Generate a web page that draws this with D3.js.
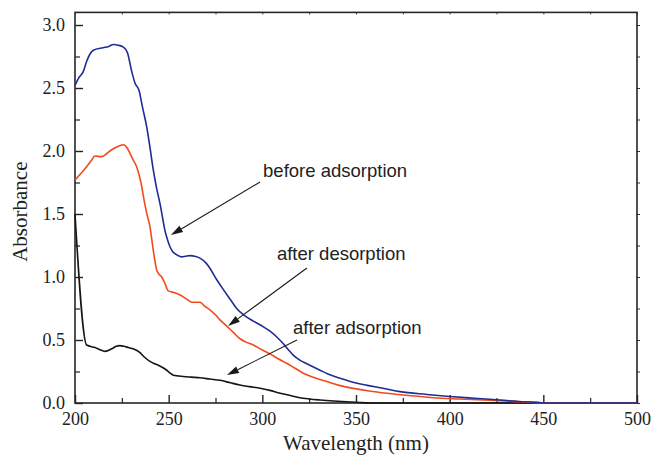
<!DOCTYPE html>
<html>
<head>
<meta charset="utf-8">
<script src="https://cdn.jsdelivr.net/npm/d3@7"></script>
<style>
  html, body { margin: 0; padding: 0; background: #fff; }
  svg { display: block; }
  .tick text { font-family: "Liberation Serif", "Times New Roman", serif; font-size: 18px; fill: #222; }
  .axis-title { font-family: "Liberation Serif", "Times New Roman", serif; font-size: 21px; fill: #222; }
  .note { font-family: "Liberation Sans", Arial, sans-serif; font-size: 18.5px; fill: #222; }
</style>
</head>
<body>
<svg id="chart" width="651" height="455"></svg>
<script>
// UV-Vis absorption spectra: wavelength (nm) vs absorbance
const beforeAdsorption = [
  [200, 2.52], [202, 2.58], [204.4, 2.63], [206.2, 2.71], [208, 2.77], [209.8, 2.80],
  [215, 2.82], [218, 2.83], [220.5, 2.845], [223, 2.84], [225.8, 2.825], [228, 2.78],
  [230.3, 2.63], [232, 2.54], [234.2, 2.48], [236, 2.35], [238.3, 2.19], [240, 2.03],
  [241.8, 1.85], [243.5, 1.71], [245.4, 1.58], [247, 1.45], [248, 1.37], [249.5, 1.29],
  [250.7, 1.24], [252, 1.205], [253.4, 1.185], [255, 1.17], [257, 1.16], [259, 1.165],
  [261.4, 1.17], [264, 1.165], [266.7, 1.15], [270, 1.11], [272, 1.07], [275.6, 0.98],
  [279.2, 0.90], [283, 0.82], [286.3, 0.75], [290, 0.70], [295.2, 0.65], [300, 0.61],
  [304.1, 0.57], [308, 0.52], [311.2, 0.47], [314, 0.42], [316.5, 0.38], [320, 0.34],
  [324, 0.31], [330.8, 0.26], [335, 0.23], [341.5, 0.196], [350, 0.158], [356, 0.14],
  [365, 0.115], [373.5, 0.09], [387.8, 0.068], [400, 0.052], [413, 0.038], [427, 0.024],
  [440, 0.01], [448, 0.004], [450, 0], [500, 0]
];

const afterDesorption = [
  [200, 1.77], [203, 1.82], [206.2, 1.875], [208.5, 1.92], [210.7, 1.96], [214.2, 1.955],
  [217, 1.98], [219.6, 2.01], [222, 2.03], [225.8, 2.05], [228, 2.02], [229.4, 1.98],
  [231, 1.93], [232.9, 1.875], [235.6, 1.72], [237, 1.60], [238.3, 1.505], [240, 1.40],
  [241.8, 1.21], [243.6, 1.055], [245, 1.02], [246.3, 1.00], [248, 0.95], [249.8, 0.89],
  [252, 0.88], [256.1, 0.857], [259, 0.83], [262.3, 0.80], [266.7, 0.80], [269, 0.77],
  [272, 0.74], [275, 0.70], [277.4, 0.66], [281, 0.61], [284.5, 0.56], [288.1, 0.51],
  [291, 0.485], [295.2, 0.46], [300, 0.42], [304.1, 0.39], [308, 0.355], [313, 0.315],
  [317, 0.28], [321.9, 0.236], [328, 0.20], [334.4, 0.17], [341, 0.14], [348.6, 0.116],
  [357, 0.095], [366.4, 0.077], [378, 0.06], [391.3, 0.042], [405, 0.032], [418, 0.024],
  [432, 0.014], [444.7, 0.005], [450, 0], [500, 0]
];

const afterAdsorption = [
  [200, 1.50], [206.2, 0.46], [210.7, 0.44], [213, 0.425], [216, 0.41], [219.6, 0.43],
  [222, 0.45], [224, 0.455], [226, 0.45], [228.5, 0.44], [231, 0.43], [234.7, 0.40],
  [237, 0.365], [240, 0.33], [242, 0.315], [244.5, 0.30], [247, 0.28], [249, 0.26],
  [251, 0.235], [252.5, 0.22], [255, 0.215], [257.8, 0.21], [262, 0.205], [266.7, 0.20],
  [272, 0.19], [277.4, 0.18], [283, 0.16], [288, 0.143], [293, 0.13], [298.8, 0.117],
  [304, 0.10], [309.5, 0.077], [315, 0.06], [320, 0.042], [325, 0.032], [330.8, 0.024],
  [338, 0.016], [345, 0.01], [352, 0.004], [360, 0], [500, 0]
];

const xTicks = [200, 250, 300, 350, 400, 450, 500];
const xMinorTicks = [225, 275, 325, 375, 425, 475];
const yTicks = [0, 0.5, 1.0, 1.5, 2.0, 2.5, 3.0];
const yMinorTicks = [0.25, 0.75, 1.25, 1.75, 2.25, 2.75];

// drawn in this order, so the blue spectrum ends up on top
const seriesList = [
  { name: "after adsorption", values: afterAdsorption, color: "#161616" },
  { name: "after desorption", values: afterDesorption, color: "#f24a1d" },
  { name: "before adsorption", values: beforeAdsorption, color: "#1f2c94" }
];

// label text position, arrow tail and arrow tip, in data units
const notes = [
  { text: "before adsorption", at: [300.4, 1.794], from: [298.8, 1.754], to: [251.2, 1.333] },
  { text: "after desorption", at: [307.8, 1.135], from: [323.8, 1.071], to: [281.7, 0.611] },
  { text: "after adsorption", at: [316.4, 0.548], from: [318.5, 0.50], to: [281.1, 0.222] }
];

const svg = d3.select("#chart");
const margin = { left: 75, right: 14, top: 12.4, bottom: 52 };
const W = 651, H = 455;

const x = d3.scaleLinear().domain([200, 500]).range([margin.left, W - margin.right]);
const y = d3.scaleLinear().domain([0, 3.1]).range([H - margin.bottom, margin.top]);

const x0 = x.range()[0], x1 = x.range()[1];
const y0 = y.range()[0], y1 = y.range()[1];

svg.append("rect").attr("width", W).attr("height", H).attr("fill", "#fff");

// bottom axis: major ticks with labels, inward
const gx = svg.append("g").attr("transform", `translate(0,${y0})`)
  .call(d3.axisBottom(x).tickValues(xTicks).tickSizeInner(-8).tickSizeOuter(0).tickPadding(9).tickFormat(d3.format("d")));
gx.select(".domain").remove();
gx.selectAll(".tick line").attr("stroke", "#222").attr("stroke-width", 1.4);

svg.append("g").attr("transform", `translate(0,${y0})`)
  .call(d3.axisBottom(x).tickValues(xMinorTicks).tickSizeInner(-5).tickSizeOuter(0).tickFormat(""))
  .call(g => g.select(".domain").remove())
  .selectAll(".tick line").attr("stroke", "#222").attr("stroke-width", 1.2);

// left axis
const gy = svg.append("g").attr("transform", `translate(${x0},0)`)
  .call(d3.axisLeft(y).tickValues(yTicks).tickSizeInner(-8).tickSizeOuter(0).tickPadding(10).tickFormat(d3.format(".1f")));
gy.select(".domain").remove();
gy.selectAll(".tick line").attr("stroke", "#222").attr("stroke-width", 1.4);

svg.append("g").attr("transform", `translate(${x0},0)`)
  .call(d3.axisLeft(y).tickValues(yMinorTicks).tickSizeInner(-5).tickSizeOuter(0).tickFormat(""))
  .call(g => g.select(".domain").remove())
  .selectAll(".tick line").attr("stroke", "#222").attr("stroke-width", 1.2);

// top and right axes: small unlabeled ticks
svg.append("g").attr("transform", `translate(0,${y1})`)
  .call(d3.axisTop(x).tickValues(xTicks.concat(xMinorTicks)).tickSizeInner(-2).tickSizeOuter(0).tickFormat(""))
  .call(g => g.select(".domain").remove())
  .selectAll(".tick line").attr("stroke", "#333").attr("stroke-width", 1);

svg.append("g").attr("transform", `translate(${x1},0)`)
  .call(d3.axisRight(y).tickValues(yTicks.concat(yMinorTicks)).tickSizeInner(3).tickSizeOuter(0).tickFormat(""))
  .call(g => g.select(".domain").remove())
  .selectAll(".tick line").attr("stroke", "#333").attr("stroke-width", 1);

// frame
svg.append("rect")
  .attr("x", x0).attr("y", y1)
  .attr("width", x1 - x0).attr("height", y0 - y1)
  .attr("fill", "none").attr("stroke", "#262626").attr("stroke-width", 1.6);

// series, above the frame
const line = d3.line()
  .x(d => x(d[0]))
  .y(d => y(d[1]))
  .curve(d3.curveMonotoneX);

svg.append("g").selectAll("path")
  .data(seriesList)
  .join("path")
  .attr("d", d => line(d.values))
  .attr("fill", "none")
  .attr("stroke", d => d.color)
  .attr("stroke-width", 1.6)
  .attr("stroke-linejoin", "round");

// axis titles
svg.append("text").attr("class", "axis-title")
  .attr("x", (x0 + x1) / 2).attr("y", 450)
  .attr("text-anchor", "middle")
  .text("Wavelength (nm)");

svg.append("text").attr("class", "axis-title")
  .attr("transform", `translate(27,${(y0 + y1) / 2 + 4}) rotate(-90)`)
  .attr("text-anchor", "middle")
  .text("Absorbance");

// annotations with arrows
const ann = svg.append("g");
notes.forEach(n => {
  const [ax, ay] = [x(n.from[0]), y(n.from[1])];
  const [bx, by] = [x(n.to[0]), y(n.to[1])];
  const ang = Math.atan2(by - ay, bx - ax);
  const len = 12, half = 3.6;
  const baseX = bx - len * Math.cos(ang), baseY = by - len * Math.sin(ang);
  ann.append("line")
    .attr("x1", ax).attr("y1", ay).attr("x2", baseX).attr("y2", baseY)
    .attr("stroke", "#1a1a1a").attr("stroke-width", 1.1);
  const px = -Math.sin(ang) * half, py = Math.cos(ang) * half;
  ann.append("path")
    .attr("d", `M${bx},${by}L${baseX + px},${baseY + py}L${baseX - px},${baseY - py}Z`)
    .attr("fill", "#1a1a1a");
  ann.append("text").attr("class", "note")
    .attr("x", x(n.at[0])).attr("y", y(n.at[1]))
    .text(n.text);
});
</script>
</body>
</html>
